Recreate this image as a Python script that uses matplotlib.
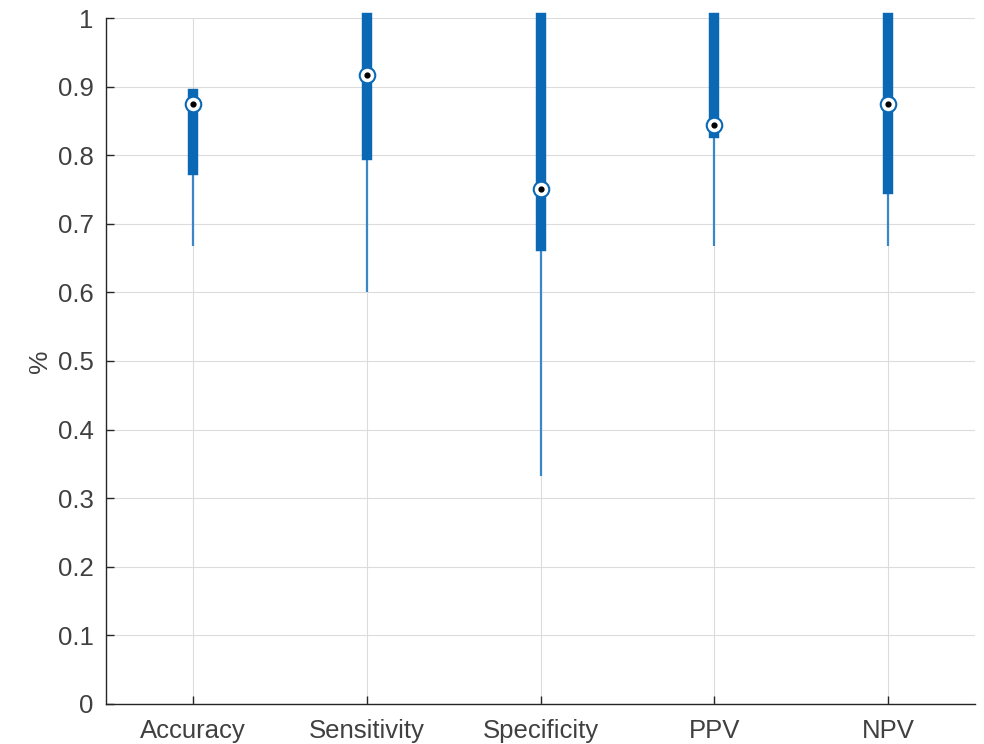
import matplotlib
matplotlib.use('Agg')
import matplotlib.pyplot as plt

plt.rcParams['font.family'] = ['Liberation Sans', 'DejaVu Sans']

# data: five-number summary per metric
metrics = ['Accuracy', 'Sensitivity', 'Specificity', 'PPV', 'NPV']
whisker_lo = [0.667, 0.600, 0.333, 0.667, 0.667]
q1 = [0.778, 0.800, 0.667, 0.833, 0.750]
median = [0.875, 0.917, 0.750, 0.844, 0.875]
q3 = [0.889, 1.0, 1.0, 1.0, 1.0]
whisker_hi = [0.889, 1.0, 1.0, 1.0, 1.0]

box_col = '#0b68b4'
wh_col = '#3a87c8'
txt_col = '#404040'

fig = plt.figure(figsize=(9.84, 7.44), dpi=100)
ax = fig.add_axes([0.1077, 0.0538, 0.8833, 0.922])

pos = list(range(1, len(metrics) + 1))
ax.vlines(pos, whisker_lo, whisker_hi, color=wh_col, linewidth=1.6, zorder=3)
boxes = ax.vlines(pos, q1, q3, color=box_col, linewidth=7.5, zorder=4,
                  clip_on=False)
boxes.set_capstyle('projecting')
ax.scatter(pos, median, s=125, facecolor='white', edgecolor=box_col,
           linewidth=1.5, zorder=5, clip_on=False)
ax.scatter(pos, median, s=12, color='black', zorder=6)

ax.set_xlim(0.5, len(metrics) + 0.5)
ax.set_ylim(0, 1)
ax.set_xticks(pos)
ax.set_xticklabels(metrics)
ax.set_yticks([i / 10 for i in range(11)])
ax.set_yticklabels(['0'] + ['%.1f' % (i / 10) for i in range(1, 10)] + ['1'])
ax.grid(True, color='#dcdcdc', linewidth=0.8, zorder=0)
ax.set_axisbelow(True)

for s in ['top', 'right']:
    ax.spines[s].set_visible(False)
for s in ['left', 'bottom']:
    ax.spines[s].set_color('#262626')
    ax.spines[s].set_linewidth(1.0)

ax.tick_params(direction='in', length=6, color='#262626', labelcolor=txt_col,
               labelsize=18.5, width=1.0)
ax.tick_params(axis='x', pad=11)
ax.tick_params(axis='y', pad=9)
ax.set_ylabel('%', fontsize=19, color=txt_col, labelpad=4)

fig.savefig('out.png', dpi=100)
